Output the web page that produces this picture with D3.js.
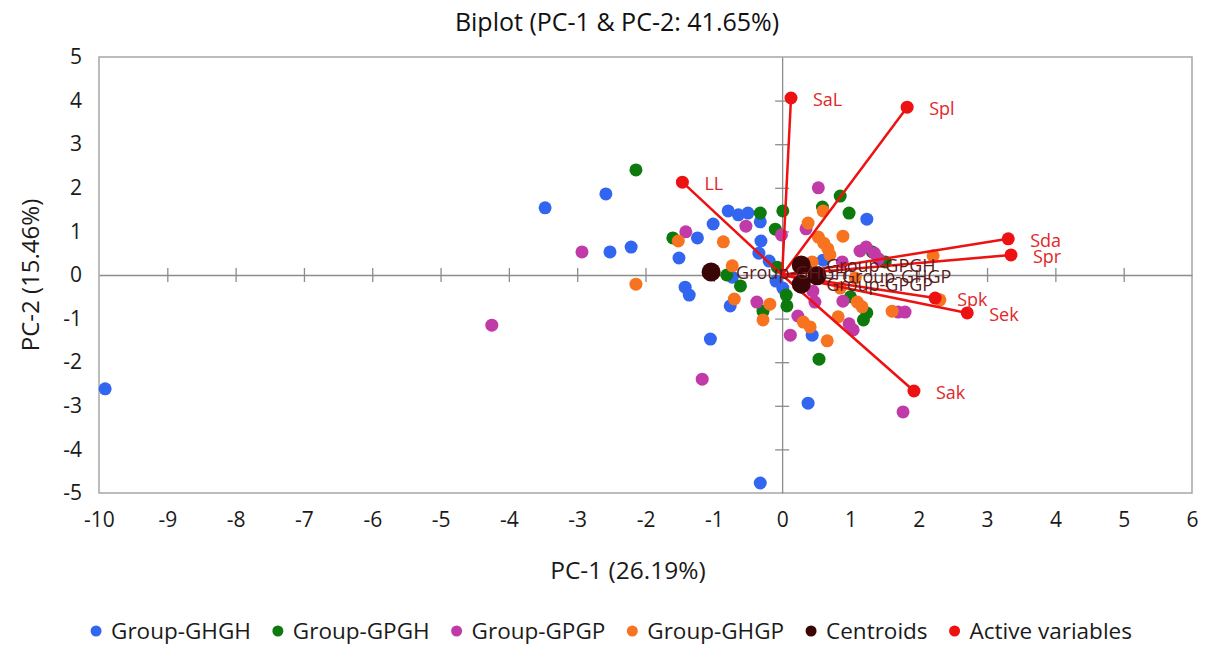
<!DOCTYPE html>
<html>
<head>
<meta charset="utf-8">
<script src="https://cdn.jsdelivr.net/npm/d3@7"></script>
<style>
  body { margin: 0; background: #fff; }
  svg { font-family: "Open Sans", "Noto Sans", sans-serif; }
</style>
</head>
<body>
<svg width="1208" height="646"></svg>
<script>
const groupGHGH = [
  [-9.91, -2.61], [-2.58, 1.86], [-3.47, 1.54], [-2.52, 0.53], [-2.21, 0.64],
  [-0.32, -4.77], [0.38, -2.94], [-1.05, -1.47], [-1.51, 0.39], [-1.42, -0.28],
  [-1.36, -0.46], [-1.24, 0.85], [-1.01, 1.17], [-0.79, 1.47], [-0.64, 1.38],
  [-0.50, 1.42], [-0.32, 1.22], [-0.31, 0.78], [-0.34, 0.50], [-0.19, 0.32],
  [-0.76, -0.71], [-0.73, -0.05], [1.24, 1.28], [0.44, -1.38], [0.60, 0.34],
  [-0.09, -0.14], [0.01, -0.30]
];
const groupGPGH = [
  [-2.14, 2.41], [-0.32, 1.42], [0.01, 1.47], [0.85, 1.81], [0.98, 1.42],
  [0.59, 1.56], [-1.60, 0.85], [-0.10, 1.05], [-0.81, 0.00], [-0.61, -0.25],
  [-0.28, -0.83], [0.06, -0.46], [0.07, -0.71], [0.54, -1.93], [1.24, -0.87],
  [1.19, -1.03], [1.00, -0.50], [1.51, 0.30], [-0.07, 0.18], [1.32, 0.53]
];
const groupGPGP = [
  [-4.25, -1.15], [-2.93, 0.53], [-1.17, -2.39], [1.77, -3.14], [-1.41, 0.99],
  [-0.53, 1.12], [-0.01, 0.92], [0.53, 2.00], [0.35, 1.06], [1.14, 0.55],
  [1.23, 0.64], [1.35, 0.50], [1.41, 0.37], [0.88, 0.30], [0.45, -0.37],
  [0.48, -0.62], [0.89, -0.60], [0.23, -0.94], [0.12, -1.38], [0.98, -1.12],
  [1.04, -1.26], [1.70, -0.85], [1.80, -0.85], [-0.37, -0.62]
];
const groupGHGP = [
  [-2.14, -0.21], [-1.52, 0.78], [-0.86, 0.76], [-0.73, 0.21], [-0.70, -0.55],
  [-0.28, -1.03], [-0.18, -0.67], [0.38, 1.19], [0.60, 1.47], [0.53, 0.87],
  [0.61, 0.73], [0.67, 0.60], [0.70, 0.46], [0.89, 0.89], [2.21, 0.44],
  [2.31, -0.57], [0.82, -0.96], [0.31, -1.08], [0.41, -1.19], [0.66, -1.51],
  [1.10, -0.62], [1.17, -0.73], [1.61, -0.83], [0.85, -0.30], [0.44, 0.30],
  [1.07, -0.07]
];

const centroidNames = ["Group-GHGH", "Group-GPGH", "Group-GHGP", "Group-GPGP"];
const centroidX = [-1.04, 0.28, 0.51, 0.28];
const centroidY = [0.07, 0.23, -0.02, -0.21];

const variableNames = ["SaL", "Spl", "LL", "Sda", "Spr", "Spk", "Sek", "Sak"];
const variableX = [0.13, 1.83, -1.46, 3.31, 3.35, 2.24, 2.71, 1.93];
const variableY = [4.06, 3.85, 2.13, 0.83, 0.46, -0.53, -0.87, -2.66];

const xTicks = d3.range(-10, 7);
const yTicks = d3.range(-5, 6);

const legendLabels = ["Group-GHGH", "Group-GPGH", "Group-GPGP", "Group-GHGP", "Centroids", "Active variables"];
const legendColors = ["#3366f0", "#0c7a0c", "#c03aa8", "#f77320", "#3a0505", "#ee1111"];

const svg = d3.select("svg");
const plotLeft = 99, plotRight = 1192, plotTop = 57, plotBottom = 493;

const x = d3.scaleLinear().domain([-10, 6]).range([plotLeft, plotRight]);
const y = d3.scaleLinear().domain([-5, 5]).range([plotBottom, plotTop]);

// title
svg.append("text")
  .attr("x", 617).attr("y", 31)
  .attr("text-anchor", "middle")
  .style("font-size", "25px").style("fill", "#111")
  .text("Biplot (PC-1 & PC-2: 41.65%)");

// plot frame
svg.append("rect")
  .attr("x", plotLeft).attr("y", plotTop)
  .attr("width", plotRight - plotLeft).attr("height", plotBottom - plotTop)
  .attr("fill", "none").attr("stroke", "#a6a6a6").attr("stroke-width", 1.5);

// tick labels along the frame (plain hyphen for negatives)
const xLabels = svg.append("g")
  .attr("transform", `translate(0,${plotBottom})`)
  .call(d3.axisBottom(x).tickValues(xTicks).tickSize(0).tickPadding(19).tickFormat(d => String(d)));
const yLabels = svg.append("g")
  .attr("transform", `translate(${plotLeft},0)`)
  .call(d3.axisLeft(y).tickValues(yTicks).tickSize(0).tickPadding(17).tickFormat(d => String(d)));
[xLabels, yLabels].forEach(g => {
  g.select(".domain").remove();
  g.selectAll("text").style("font-size", "21px").style("fill", "#1a1a1a")
    .style("font-family", "'Open Sans', sans-serif");
});

// zero lines with crossing tick marks
const xZero = svg.append("g")
  .attr("transform", `translate(0,${y(0)})`)
  .call(d3.axisBottom(x).tickValues(xTicks.slice(1, -1)).tickSize(7).tickSizeOuter(0).tickFormat(""));
xZero.selectAll(".tick line").attr("y1", -7);
const yZero = svg.append("g")
  .attr("transform", `translate(${x(0)},0)`)
  .call(d3.axisLeft(y).tickValues(yTicks.slice(1, -1)).tickSize(7).tickSizeOuter(0).tickFormat(""));
yZero.selectAll(".tick line").attr("x1", 7);
[xZero, yZero].forEach(g => {
  g.selectAll("path, line").attr("stroke", "#8c8c8c").attr("stroke-width", 1.3);
});

// observation points
const groups = [groupGHGH, groupGPGH, groupGPGP, groupGHGP];
groups.forEach((pts, i) => {
  svg.append("g").selectAll("circle")
    .data(pts)
    .join("circle")
    .attr("cx", d => x(d[0]))
    .attr("cy", d => y(d[1]))
    .attr("r", 6.5)
    .attr("fill", legendColors[i]);
});

// loading vectors
const variables = variableNames.map((n, i) => ({ name: n, x: variableX[i], y: variableY[i] }));
svg.append("g").selectAll("line")
  .data(variables)
  .join("line")
  .attr("x1", x(0)).attr("y1", y(0))
  .attr("x2", d => x(d.x)).attr("y2", d => y(d.y))
  .attr("stroke", legendColors[5]).attr("stroke-width", 2.5);

// centroids
const centroids = centroidNames.map((n, i) => ({ name: n, x: centroidX[i], y: centroidY[i] }));
svg.append("g").selectAll("circle")
  .data(centroids)
  .join("circle")
  .attr("cx", d => x(d.x)).attr("cy", d => y(d.y))
  .attr("r", 9.5)
  .attr("fill", legendColors[4]);
svg.append("g").selectAll("text")
  .data(centroids)
  .join("text")
  .attr("x", d => x(d.x) + 25)
  .attr("y", d => y(d.y) + 7)
  .style("font-size", "18px")
  .style("fill", "#5a1c1c")
  .text(d => d.name);

// variable end points and labels
svg.append("g").selectAll("circle")
  .data(variables)
  .join("circle")
  .attr("cx", d => x(d.x)).attr("cy", d => y(d.y))
  .attr("r", 6.5)
  .attr("fill", legendColors[5]);
svg.append("g").selectAll("text")
  .data(variables)
  .join("text")
  .attr("x", d => x(d.x) + 22)
  .attr("y", d => y(d.y) + 8)
  .style("font-size", "18px")
  .style("fill", "#e02828")
  .text(d => d.name);

// axis titles
svg.append("text")
  .attr("x", 628).attr("y", 579)
  .attr("text-anchor", "middle")
  .style("font-size", "24.5px").style("fill", "#1a1a1a")
  .text("PC-1 (26.19%)");
svg.append("text")
  .attr("transform", `translate(39,${(plotTop + plotBottom) / 2}) rotate(-90)`)
  .attr("text-anchor", "middle")
  .style("font-size", "24px").style("fill", "#1a1a1a")
  .text("PC-2 (15.46%)");

// legend
const legend = svg.append("g");
let lx = 0;
legendLabels.forEach((label, i) => {
  const item = legend.append("g").attr("transform", `translate(${lx},0)`);
  item.append("circle").attr("cx", 0).attr("cy", 0).attr("r", 5.5).attr("fill", legendColors[i]);
  const t = item.append("text")
    .attr("x", 15).attr("y", 8)
    .style("font-size", "22.5px").style("fill", "#1a1a1a")
    .text(label);
  lx += 15 + t.node().getComputedTextLength() + 27;
});
legend.attr("transform", `translate(${608 - (lx - 27) / 2 + 6},631)`);
</script>
</body>
</html>
